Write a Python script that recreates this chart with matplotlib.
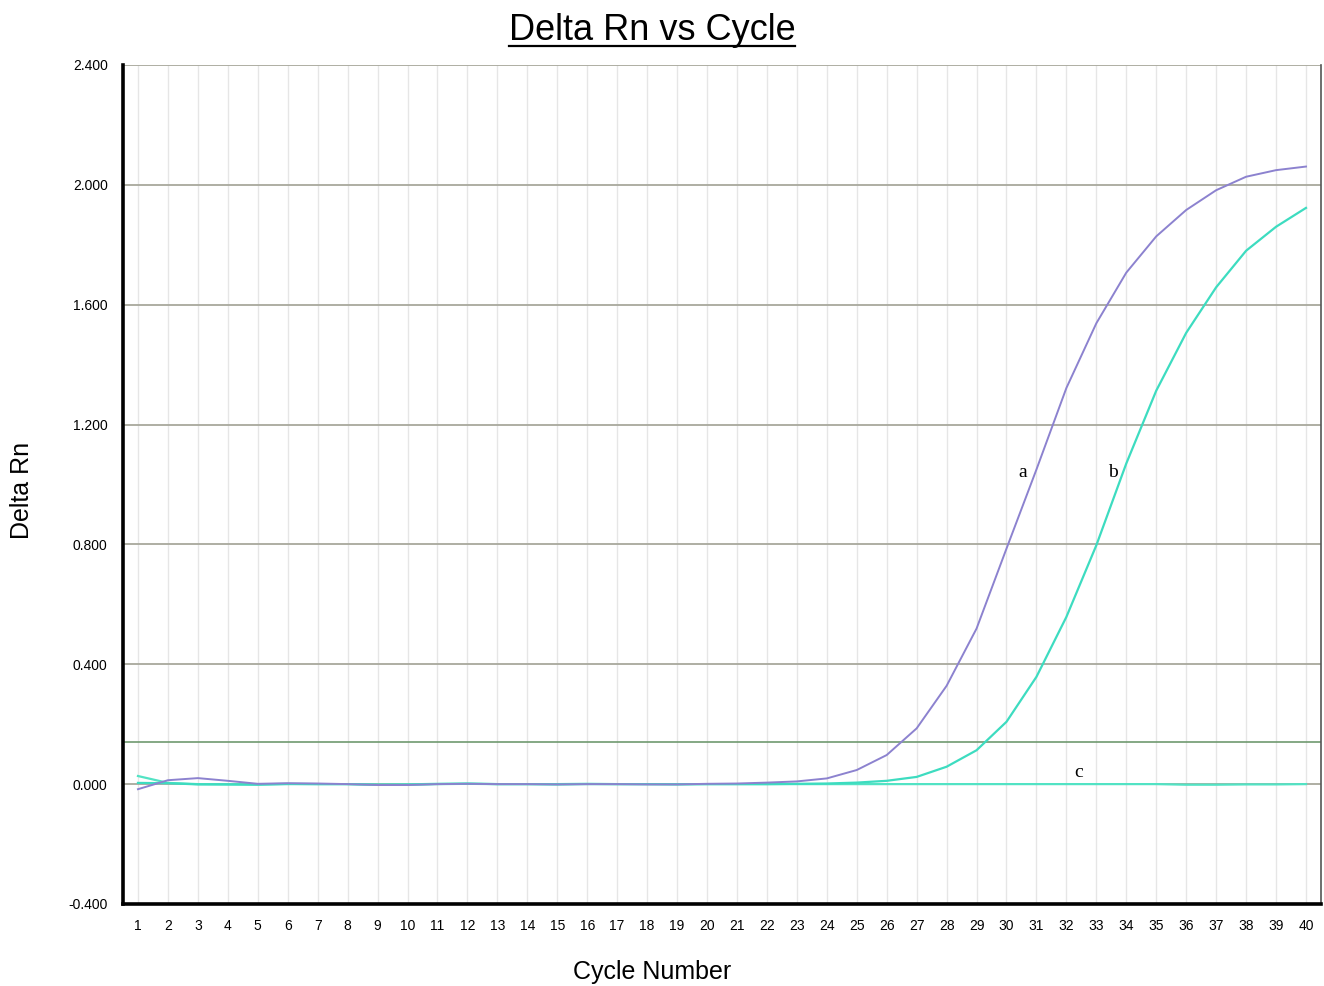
import matplotlib

matplotlib.use("Agg")
import matplotlib.pyplot as plt
from matplotlib.lines import Line2D

plt.rcParams["font.family"] = ["Liberation Sans", "DejaVu Sans"]

cycles = list(range(1, 41))

# sample a (purple)
delta_rn_a = [
    -0.017, 0.013, 0.020, 0.011, 0.001, 0.003, 0.002, 0.000, -0.003, -0.003,
    0.000, 0.001, 0.000, 0.000, -0.001, 0.000, 0.000, -0.001, -0.001, 0.001,
    0.002, 0.005, 0.009, 0.019, 0.047, 0.097, 0.186, 0.328, 0.519, 0.786,
    1.050, 1.322, 1.538, 1.707, 1.828, 1.916, 1.982, 2.027, 2.049, 2.061,
]

# sample b (cyan)
delta_rn_b = [
    0.004, 0.003, -0.001, -0.001, -0.002, 0.000, 0.000, 0.000, -0.002, -0.002,
    0.000, 0.001, 0.000, 0.000, -0.001, 0.000, 0.000, 0.000, -0.001, 0.000,
    0.000, 0.000, 0.001, 0.002, 0.005, 0.011, 0.024, 0.058, 0.113, 0.208,
    0.358, 0.558, 0.797, 1.070, 1.313, 1.506, 1.658, 1.780, 1.860, 1.923,
]

# sample c (no amplification)
delta_rn_c = [
    0.027, 0.004, 0.000, -0.001, -0.001, 0.001, 0.000, 0.000, -0.002, -0.001,
    0.001, 0.002, 0.000, 0.000, 0.000, 0.001, 0.000, 0.000, 0.000, 0.000,
    0.000, 0.000, 0.000, 0.000, 0.000, 0.000, 0.000, 0.000, 0.000, 0.000,
    0.000, 0.000, 0.000, 0.000, 0.000, -0.002, -0.002, -0.001, -0.001, 0.000,
]

threshold = 0.14
y_ticks = [-0.4, 0.0, 0.4, 0.8, 1.2, 1.6, 2.0, 2.4]

fig = plt.figure(figsize=(13.24, 9.86), dpi=100)
ax = fig.add_axes([0.0929, 0.0832, 0.9048, 0.8509])

ax.set_xlim(0.5, 40.5)
ax.set_ylim(-0.4, 2.4)

for c in cycles:
    ax.axvline(c, color="#e6e6e6", lw=1.0, zorder=0)
for v in y_ticks[1:]:
    ax.axhline(v, color="#a8a89c", lw=1.3, zorder=1)
ax.axhline(threshold, color="#6f9a6f", lw=1.2, zorder=1)

ax.plot(cycles, delta_rn_c, color="#52e3c4", lw=1.6, zorder=3)
ax.plot(cycles, delta_rn_b, color="#3ddcc0", lw=1.6, zorder=3)
ax.plot(cycles, delta_rn_a, color="#8c82cf", lw=1.4, zorder=4)

serif = ["Liberation Serif", "DejaVu Serif"]
ax.text(30.55, 1.04, "a", family=serif, fontsize=14, ha="center", va="center")
ax.text(33.55, 1.04, "b", family=serif, fontsize=14, ha="center", va="center")
ax.text(32.4, 0.04, "c", family=serif, fontsize=14, ha="center", va="center")

ax.set_xticks(cycles)
ax.set_xticklabels([str(c) for c in cycles], fontsize=10)
ax.set_yticks(y_ticks)
ax.set_yticklabels([f"{v:.3f}" for v in y_ticks], fontsize=10)
ax.tick_params(length=0, pad=11)

for side in ("left", "bottom"):
    ax.spines[side].set_linewidth(2.6)
    ax.spines[side].set_color("black")
ax.spines["right"].set_color("#555555")
ax.spines["right"].set_linewidth(1.2)
ax.spines["top"].set_visible(False)

fig.text(0.4925, 0.0142, "Cycle Number", fontsize=18, ha="center", va="center")
fig.text(0.0166, 0.503, "Delta Rn", fontsize=18, ha="center", va="center",
         rotation=90)

title = fig.text(0.4925, 0.969, "Delta Rn vs Cycle", fontsize=26,
                 ha="center", va="center")

# underline the title
fig.canvas.draw()
bb = title.get_window_extent().transformed(fig.transFigure.inverted())
fig.add_artist(Line2D([bb.x0, bb.x1], [bb.y0 + 0.002, bb.y0 + 0.002],
                      transform=fig.transFigure, color="black", lw=1.6))

fig.savefig("out.png", dpi=100)
